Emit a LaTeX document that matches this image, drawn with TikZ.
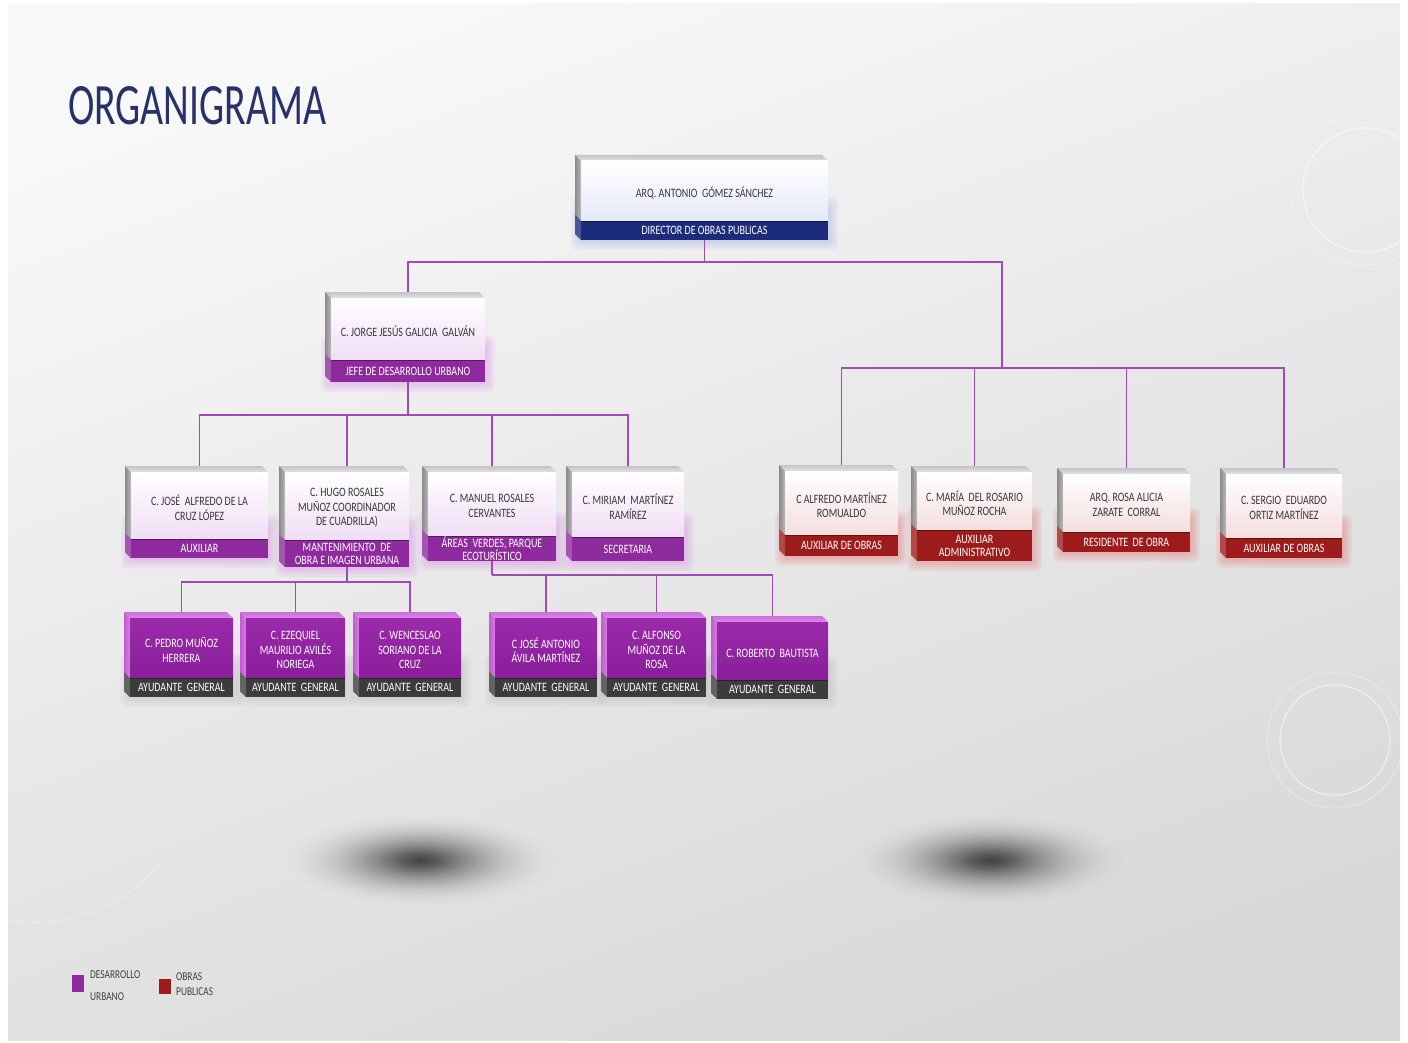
\documentclass[tikz,border=0pt]{standalone}
\usepackage{fontspec}
\usepackage{graphicx}
\setmainfont{Carlito}
\newfontfamily\boxfont[FakeStretch=0.78]{Carlito}
\usetikzlibrary{fadings}
\tikzfading[name=softfade, inner color=transparent!0, outer color=transparent!100]
% colours
\definecolor{bgA}{HTML}{F8F8F8}
\definecolor{bgB}{HTML}{D8D8D8}
\definecolor{navy}{HTML}{27326A}
\definecolor{conn}{HTML}{A04AB8}
% kind b (blue)
\definecolor{barb}{HTML}{1C2B7A}
\definecolor{faceb}{HTML}{E4E9F7}
\definecolor{faceTopb}{HTML}{FFFFFF}
\definecolor{glowb}{HTML}{8FA0E0}
\definecolor{txtb}{HTML}{383838}
\definecolor{topAb}{HTML}{C4C4C4}
\definecolor{topBb}{HTML}{E2E2E2}
\definecolor{sideAb}{HTML}{8A8A8A}
\definecolor{sideBb}{HTML}{B8B8B8}
% kind p (purple)
\definecolor{barp}{HTML}{8E2A9E}
\definecolor{facep}{HTML}{F0DDF4}
\definecolor{faceTopp}{HTML}{FFFFFF}
\definecolor{glowp}{HTML}{D070E6}
\definecolor{txtp}{HTML}{383838}
\definecolor{topAp}{HTML}{C4C4C4}
\definecolor{topBp}{HTML}{E2E2E2}
\definecolor{sideAp}{HTML}{8A8A8A}
\definecolor{sideBp}{HTML}{B8B8B8}
% kind r (red)
\definecolor{barr}{HTML}{9E1B1B}
\definecolor{facer}{HTML}{F4DEDE}
\definecolor{faceTopr}{HTML}{FFFFFF}
\definecolor{glowr}{HTML}{E85050}
\definecolor{txtr}{HTML}{383838}
\definecolor{topAr}{HTML}{C4C4C4}
\definecolor{topBr}{HTML}{E2E2E2}
\definecolor{sideAr}{HTML}{8A8A8A}
\definecolor{sideBr}{HTML}{B8B8B8}
% kind h (helpers, solid purple)
\definecolor{barh}{HTML}{3C3C3C}
\definecolor{faceh}{HTML}{8A1F9A}
\definecolor{faceToph}{HTML}{9A2AAA}
\definecolor{glowh}{HTML}{B0B0B0}
\definecolor{txth}{HTML}{FFFFFF}
\definecolor{topAh}{HTML}{C96FD8}
\definecolor{topBh}{HTML}{D98BE6}
\definecolor{sideAh}{HTML}{C05CD0}
\definecolor{sideBh}{HTML}{D57FE2}
\tikzset{
  nametxt/.style={font=\boxfont\fontsize{12.8}{14.5}\selectfont, align=center, inner sep=0pt},
  bartxt/.style={font=\boxfont\fontsize{12.8}{13}\selectfont, align=center, text=white, inner sep=0pt},
  connector/.style={draw=conn, line width=1.1pt},
  legtxt/.style={font=\boxfont\fontsize{12}{13}\selectfont, text=black!75, anchor=west, inner sep=0pt}
}
% #1 name #2 x1 #3 y1 #4 x2 #5 y2 #6 bar top #7 kind #8 name text #9 bar text
\newcommand\orgbox[9]{%
  \foreach \gi in {1,...,5}{\fill[glow#7, opacity=0.08, rounded corners=5] ({#2+6-\gi*2},{#6-14-\gi*2}) rectangle ({#4+\gi*2},{#5+\gi*2});}
  \shade[top color=topA#7, bottom color=topB#7] (#2,#3) -- ({#4-6},#3) -- (#4,{#3+6}) -- ({#2+6},{#3+6}) -- cycle;
  \shade[left color=sideA#7, right color=sideB#7] (#2,#3) -- ({#2+6},{#3+6}) -- ({#2+6},#5) -- (#2,{#5-6}) -- cycle;
  \shade[top color=faceTop#7, bottom color=face#7] ({#2+6},{#3+6}) rectangle (#4,#6);
  \fill[bar#7!80!white] (#2,{#6-6}) -- ({#2+6},#6) -- ({#2+6},#5) -- (#2,{#5-6}) -- cycle;
  \fill[bar#7] ({#2+6},#6) rectangle (#4,#5);
  \draw[bar#7!60!black, line width=0.6pt] ({#2+6},#6) -- (#4,#6);
  \node[nametxt, text=txt#7] (#1) at ({(#2+6+#4)/2},{(#3+6+#6)/2+2}) {#8};
  \node[bartxt] (#1-bar) at ({(#2+6+#4)/2},{(#6+#5)/2}) {#9};
  \coordinate (#1-t) at ({(#2+6+#4)/2},#3);
  \coordinate (#1-b) at ({(#2+6+#4)/2},#5);
}
\newcommand\floorshadow[2]{%
  \foreach \k in {1,...,9}{\fill[black, opacity=0.12, path fading=softfade] (#1,#2) ellipse[x radius={20+\k*13}, y radius={8+\k*4.2}];}
}
\begin{document}
\begin{tikzpicture}[x=1pt,y=-1pt]
\useasboundingbox (0,0) rectangle (1408,1043);
% background
\fill[white] (0,0) rectangle (1408,1043);
\shade[top color=bgA, bottom color=bgB, shading angle=20] (8,4) rectangle (1400,1040);
% decorative arcs
\draw[white, line width=1.2pt, opacity=0.5] (1365,190) circle[radius=62];
\draw[white, line width=0.8pt, opacity=0.35] (1365,190) circle[radius=75];
\draw[white, line width=1.2pt, opacity=0.5] (1335,740) circle[radius=55];
\draw[white, line width=0.8pt, opacity=0.35] (1335,740) circle[radius=68];
\draw[white, line width=0.8pt, opacity=0.3] (1180,4) arc[start angle=200, end angle=260, radius=300];
\draw[white, line width=0.8pt, opacity=0.3] (8,920) arc[start angle=100, end angle=40, radius=160];
% floor shadows
\floorshadow{420}{860}
\floorshadow{990}{860}
% title
\node[anchor=north west, inner sep=0pt, text=navy] (title) at (68,86) {\resizebox{258pt}{38pt}{\addfontfeatures{FakeStretch=0.9}ORGANIGRAMA}};

% boxes
\orgbox{dir}{575}{155}{828}{240}{221}{b}{ARQ. ANTONIO\ \ GÓMEZ SÁNCHEZ}{DIRECTOR DE OBRAS PUBLICAS}
\orgbox{jorge}{325}{292}{485}{382}{360}{p}{C. JORGE JESÚS GALICIA\ \ GALVÁN}{JEFE DE DESARROLLO URBANO}
\orgbox{jose}{125}{466}{268}{558}{539}{p}{C. JOSÉ\ \ ALFREDO DE LA\\CRUZ LÓPEZ}{AUXILIAR}
\orgbox{hugo}{279}{466}{409}{567}{540}{p}{C. HUGO ROSALES\\MUÑOZ COORDINADOR\\DE CUADRILLA)}{MANTENIMIENTO\ \ DE\\OBRA E IMAGEN\ URBANA}
\orgbox{manuel}{422}{466}{556}{561}{536}{p}{C. MANUEL ROSALES\\CERVANTES}{ÁREAS\ \ VERDES, PARQUE\\ECOTURÍSTICO}
\orgbox{miriam}{566}{466}{684}{561}{537}{p}{C. MIRIAM\ \ MARTÍNEZ\\RAMÍREZ}{SECRETARIA}
\orgbox{alfredo}{779}{465}{898}{556}{535}{r}{C ALFREDO MARTÍNEZ\\ROMUALDO}{AUXILIAR DE OBRAS}
\orgbox{maria}{911}{466}{1032}{561}{530}{r}{C. MARÍA\ \ DEL ROSARIO\\MUÑOZ ROCHA}{AUXILIAR\\ADMINISTRATIVO}
\orgbox{rosa}{1057}{468}{1190}{552}{532}{r}{ARQ. ROSA ALICIA\\ZARATE\ \ CORRAL}{RESIDENTE\ \ DE OBRA}
\orgbox{sergio}{1220}{468}{1342}{558}{538}{r}{C. SERGIO\ \ EDUARDO\\ORTIZ MARTÍNEZ}{AUXILIAR DE OBRAS}
\orgbox{pedro}{124}{612}{233}{697}{678}{h}{C. PEDRO MUÑOZ\\HERRERA}{AYUDANTE\ \ GENERAL}
\orgbox{ezequiel}{240}{612}{345}{697}{678}{h}{C. EZEQUIEL\\MAURILIO AVILÉS\\NORIEGA}{AYUDANTE\ \ GENERAL}
\orgbox{wenceslao}{353}{612}{461}{697}{678}{h}{C. WENCESLAO\\SORIANO DE LA\\CRUZ}{AYUDANTE\ \ GENERAL}
\orgbox{joseant}{489}{612}{597}{697}{678}{h}{C JOSÉ ANTONIO\\ÁVILA MARTÍNEZ}{AYUDANTE\ \ GENERAL}
\orgbox{alfonso}{601}{612}{706}{697}{678}{h}{C. ALFONSO\\MUÑOZ DE LA\\ROSA}{AYUDANTE\ \ GENERAL}
\orgbox{roberto}{711}{616}{828}{699}{680}{h}{C. ROBERTO\ \ BAUTISTA}{AYUDANTE\ \ GENERAL}

% connectors
\coordinate (b2) at (1002,262);
\coordinate (b3) at (1002,368);
\draw[connector] (dir-b) -- ++(0,22) coordinate (b1);
\draw[connector] (jorge-t) |- (b1) -- (b2) -- (b3);
\foreach \n in {alfredo,maria,rosa,sergio} {\draw[connector] (\n-t) |- (b3);}
\draw[connector] (jorge-b) -- ++(0,33) coordinate (b4);
\foreach \n in {jose,hugo,manuel,miriam} {\draw[connector] (\n-t) |- (b4);}
\draw[connector] (hugo-b) -- ++(0,15) coordinate (b5);
\foreach \n in {pedro,ezequiel,wenceslao} {\draw[connector] (\n-t) |- (b5);}
\draw[connector] (manuel-b) -- ++(0,14) coordinate (b6);
\foreach \n in {joseant,alfonso,roberto} {\draw[connector] (\n-t) |- (b6);}

% legend
\fill[barp] (72,975) rectangle (84,992);
\node[legtxt] (leg1a) at (90,975) {DESARROLLO};
\node[legtxt] (leg1b) at (90,997) {URBANO};
\fill[barr] (159,979) rectangle (171,994);
\node[legtxt] (leg2a) at (176,977) {OBRAS};
\node[legtxt] (leg2b) at (176,992) {PUBLICAS};
\end{tikzpicture}
\end{document}
